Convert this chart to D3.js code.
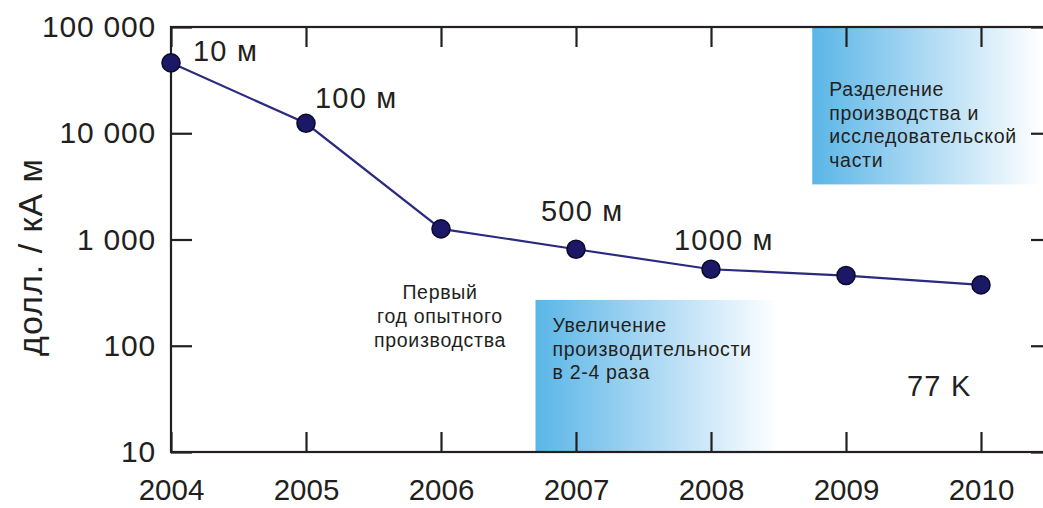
<!DOCTYPE html>
<html>
<head>
<meta charset="utf-8">
<script src="https://cdn.jsdelivr.net/npm/d3@7"></script>
<style>
  html, body { margin: 0; padding: 0; background: #fff; }
  svg { display: block; font-family: "Liberation Sans", Arial, Helvetica, sans-serif; }
</style>
</head>
<body>
<svg id="chart" width="1043" height="508"></svg>
<script>
// Cost per kA·m of conductor by year (log scale)
const years = [2004, 2005, 2006, 2007, 2008, 2009, 2010];
const costs = [46000, 12400, 1260, 810, 525, 458, 374];

// Piece-length labels attached to some of the years
const lengthYears = [2004, 2005, 2007, 2008];
const lengthLabels = ["10 м", "100 м", "500 м", "1000 м"];

// Axis ticks
const yTickValues = [10, 100, 1000, 10000, 100000];
const yTickLabels = ["10", "100", "1 000", "10 000", "100 000"];
const xTickValues = years;

// Shaded periods (from year, to year, lower/upper value) and their notes
const periodStart = [2006.7, 2008.75];
const periodEnd = [2008.5, 2010.45];
const periodLow = [10, 3300];
const periodHigh = [270, 100000];
const periodNotes = [
  ["Увеличение", "производительности", "в 2-4 раза"],
  ["Разделение", "производства и", "исследовательской", "части"]
];
const firstYearNote = ["Первый", "год опытного", "производства"];
const tempLabel = "77 K";
const yTitle = "долл. / кА м";

const svg = d3.select("#chart");
const plotLeft = 171, plotRight = 1051, plotTop = 27, plotBottom = 452;

const x = d3.scaleLinear().domain([2004, 2010]).range([plotLeft, 981]);
const y = d3.scaleLog().domain([10, 100000]).range([plotBottom, plotTop]);

const ink = "#231f20";
const textCol = "#231f20";

// Gradient fill for the shaded periods
const defs = svg.append("defs");
const grad = defs.append("linearGradient").attr("id", "fade").attr("x1", "0").attr("x2", "1").attr("y1", "0").attr("y2", "0");
grad.append("stop").attr("offset", "0%").attr("stop-color", "#5ab6e7");
grad.append("stop").attr("offset", "45%").attr("stop-color", "#a6d6f2");
grad.append("stop").attr("offset", "100%").attr("stop-color", "#ffffff");

const periods = periodStart.map((s, i) => ({ s, e: periodEnd[i], lo: periodLow[i], hi: periodHigh[i], note: periodNotes[i] }));

svg.append("g").selectAll("rect").data(periods).join("rect")
  .attr("x", d => x(d.s))
  .attr("y", d => y(d.hi))
  .attr("width", d => x(d.e) - x(d.s))
  .attr("height", d => y(d.lo) - y(d.hi))
  .attr("fill", "url(#fade)");

// Period notes
const noteG = svg.append("g").attr("fill", textCol)
  .style("font-size", "19.5px").style("letter-spacing", "0.7px");
const noteTop = [332, 96];
periods.forEach((d, i) => {
  const t = noteG.append("text");
  d.note.forEach((line, j) => {
    t.append("tspan").attr("x", x(d.s) + 17).attr("y", noteTop[i] + j * 23.6).text(line);
  });
});

// First-year note, centred under 2006
const fy = svg.append("text").attr("fill", textCol).attr("text-anchor", "middle")
  .style("font-size", "19.5px").style("letter-spacing", "0.7px");
firstYearNote.forEach((line, j) => {
  fy.append("tspan").attr("x", x(2006) - 1).attr("y", 299 + j * 23.8).text(line);
});

// Frame
svg.append("rect")
  .attr("x", plotLeft).attr("y", plotTop)
  .attr("width", plotRight - plotLeft).attr("height", plotBottom - plotTop)
  .attr("fill", "none").attr("stroke", ink).attr("stroke-width", 2.2);

// Axes with inward ticks
const fmt = (d) => yTickLabels[yTickValues.indexOf(d)];

const xAxisB = d3.axisBottom(x).tickValues(xTickValues).tickFormat(d3.format("d")).tickSize(-20).tickPadding(27);
const xAxisT = d3.axisTop(x).tickValues(xTickValues).tickFormat("").tickSize(-20);
const yAxisL = d3.axisLeft(y).tickValues(yTickValues).tickFormat(fmt).tickSize(-21).tickPadding(15);
const yAxisR = d3.axisRight(y).tickValues(yTickValues).tickFormat("").tickSize(-20);

function style(g) {
  g.select(".domain").remove();
  g.selectAll(".tick line").attr("stroke", ink).attr("stroke-width", 2.2);
  g.selectAll(".tick text").attr("fill", textCol).style("font-family", "'Liberation Sans', Arial, sans-serif");
}

svg.append("g").attr("transform", `translate(0,${plotBottom})`).call(xAxisB).call(style)
  .selectAll(".tick text").style("font-size", "29.5px");
svg.append("g").attr("transform", `translate(0,${plotTop})`).call(xAxisT).call(style);
svg.append("g").attr("transform", `translate(${plotLeft},0)`).call(yAxisL).call(style)
  .selectAll(".tick text").style("font-size", "30px").style("letter-spacing", "0.8px");
svg.append("g").attr("transform", `translate(${plotRight},0)`).call(yAxisR).call(style);

// Y title
svg.append("text")
  .attr("transform", `translate(42,257) rotate(-90)`)
  .attr("text-anchor", "middle")
  .attr("fill", textCol)
  .style("font-size", "34px")
  .style("letter-spacing", "1px")
  .text(yTitle);

// Cost line and markers
const pts = years.map((yr, i) => ({ yr, v: costs[i] }));
svg.append("path")
  .datum(pts)
  .attr("fill", "none")
  .attr("stroke", "#2b2980")
  .attr("stroke-width", 2.2)
  .attr("d", d3.line().x(d => x(d.yr)).y(d => y(d.v)));

svg.append("g").selectAll("circle").data(pts).join("circle")
  .attr("cx", d => x(d.yr))
  .attr("cy", d => y(d.v))
  .attr("r", 9)
  .attr("fill", "#1c1868")
  .attr("stroke", "#0d0b2a")
  .attr("stroke-width", 1.6);

// Piece-length labels
const lenOffset = [[22, -2], [9, -15], [-35, -28], [-37, -19]];
svg.append("g").selectAll("text").data(lengthYears).join("text")
  .attr("x", (d, i) => x(d) + lenOffset[i][0])
  .attr("y", (d, i) => y(costs[years.indexOf(d)]) + lenOffset[i][1])
  .attr("fill", textCol)
  .style("font-size", "29px")
  .style("letter-spacing", "1.2px")
  .text((d, i) => lengthLabels[i]);

// Temperature label
svg.append("text")
  .attr("x", 907).attr("y", 396)
  .attr("fill", textCol)
  .style("font-size", "29px")
  .style("letter-spacing", "1.2px")
  .text(tempLabel);
</script>
</body>
</html>
